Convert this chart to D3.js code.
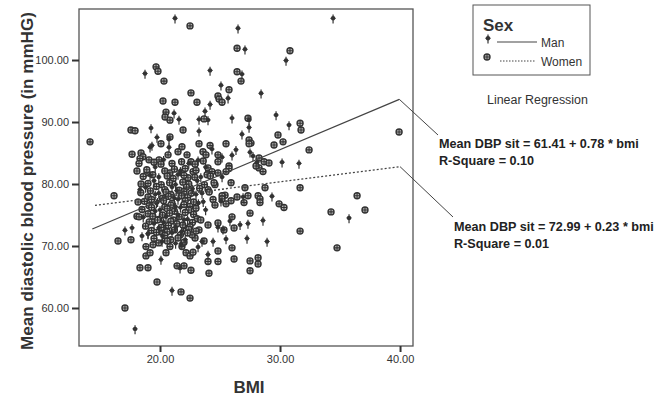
<!DOCTYPE html>
<html>
<head>
<meta charset="utf-8">
<script src="https://cdn.jsdelivr.net/npm/d3@7"></script>
<style>
  html, body { margin: 0; padding: 0; background: #fff; }
  svg { display: block; font-family: "Liberation Sans", Arial, sans-serif; }
</style>
</head>
<body>
<svg id="chart" width="658" height="397"></svg>
<script>
// ---------------- DATA ----------------
const xTicks = [20, 30, 40];
const yTicks = [60, 70, 80, 90, 100];
const xLabel = "BMI";
const yLabel = "Mean diastolic blood pressure (in mmHG)";
const legendTitle = "Sex";
const seriesNames = ["Man", "Women"];
const fitLabels = [
  ["Mean DBP sit = 61.41 + 0.78 * bmi", "R-Square = 0.10"],
  ["Mean DBP sit = 72.99 + 0.23 * bmi", "R-Square = 0.01"]
];
const fitTitle = "Linear Regression";

// regression line end points [bmi, dbp] as drawn
const menFit = [[14.36, 72.74], [39.94, 93.66]];
const womenFit = [[14.58, 76.56], [40.0, 82.8]];

// scatter points [bmi, dbp]
const menPoints = [
  [21.25,106.6],[26.5,105.0],[34.42,106.6],[27.08,101.6],[30.5,99.8],[18.75,97.7],[24.17,98.2],[26.83,97.6],
  [25.08,95.8],[28.42,94.5],[25.67,93.7],[24.17,92.7],[21.17,91.3],[21.58,90.3],[23.75,91.6],[23.25,90.3],
  [24.0,90.2],[26.0,90.5],[27.42,90.2],[27.42,89.0],[26.83,87.9],[29.67,91.0],[30.75,89.4],[19.25,88.9],
  [23.25,88.4],[19.75,87.4],[20.75,87.1],[19.33,86.1],[19.17,85.8],[20.75,85.8],[19.17,81.3],[18.33,79.0],
  [24.33,85.5],[26.33,85.4],[26.0,84.5],[27.5,85.0],[27.75,84.4],[28.08,83.4],[30.17,83.4],[31.58,83.2],
  [23.17,83.7],[25.17,84.2],[25.17,81.0],[17.08,72.4],[17.67,72.8],[18.5,71.5],[19.0,71.8],[20.08,67.7],
  [20.17,70.6],[21.0,62.7],[21.67,66.3],[17.92,56.5],[24.0,68.5],[27.25,71.1],[28.92,70.6],[25.5,71.0],
  [24.42,70.6],[25.83,73.9],[26.67,73.3],[27.33,73.5],[28.58,74.0],[29.33,77.9],[26.92,77.8],[35.75,74.4],
  [25.25,72.6],[25.08,77.1],[24.83,72.9],[21.75,70.2],[23.17,69.7],[23.5,70.6],
  [20.3,83.8],[22.4,83.2],[19.6,82.6],[21.7,82.0],[23.8,82.6],[19.9,81.0],[21.5,81.4],[23.4,81.0],
  [19.5,80.4],[21.3,79.8],[23.1,80.4],[18.8,79.3],[21.0,79.4],[22.7,79.1],[19.9,78.4],[21.4,78.8],
  [23.5,78.4],[19.6,78.2],[21.2,77.6],[23.0,78.2],[19.8,77.0],[21.5,77.4],[23.6,77.0],[19.7,76.8],
  [21.3,76.2],[23.2,76.8],[20.0,75.7],[21.7,76.1],[23.8,75.7],[19.6,75.5],[21.5,74.9],[18.6,74.5],
  [20.5,74.6],[22.3,74.2],[20.3,73.7],[22.0,74.1],[19.5,73.5],[21.3,72.9],[19.9,72.8],[21.8,72.2],
  [19.0,71.9],[21.0,72.0],[20.2,71.5],[22.1,70.9],[21.3,70.3]
];
const womenPoints = [
  [22.5,105.5],[26.42,101.9],[30.83,101.5],[19.67,98.9],[19.83,98.2],[20.33,96.6],[26.42,98.1],[26.75,96.6],
  [25.75,95.2],[22.58,94.7],[20.25,93.4],[21.25,93.2],[23.08,93.2],[24.83,94.2],[24.92,93.7],[25.17,93.2],
  [20.5,91.6],[20.42,90.8],[20.83,90.3],[23.67,90.5],[27.33,90.6],[27.42,87.1],[27.58,86.6],[27.42,86.5],
  [31.67,89.8],[31.75,88.7],[29.83,87.9],[30.25,86.8],[29.5,86.3],[32.42,85.5],[39.92,88.4],[14.17,86.8],
  [17.58,88.7],[17.92,88.6],[21.92,88.7],[20.83,87.6],[20.08,86.5],[17.67,84.8],[18.42,85.0],[18.58,84.4],
  [18.33,84.1],[18.25,83.3],[18.08,82.1],[19.08,83.9],[19.92,83.9],[20.08,83.2],[20.67,84.7],[18.92,81.8],
  [20.83,81.8],[18.42,80.0],[16.17,78.1],[21.83,86.0],[23.25,86.5],[24.17,86.2],[25.5,86.5],[24.83,84.7],
  [28.25,84.2],[28.25,82.6],[28.58,82.0],[28.67,83.6],[29.08,83.4],[25.75,82.9],[25.75,82.5],[25.5,82.0],
  [28.0,82.9],[22.25,84.7],[21.5,85.2],[22.58,83.6],[22.92,83.2],[24.83,83.6],[23.58,85.2],[23.83,84.7],
  [24.0,82.6],[24.33,82.0],[24.83,81.8],[23.92,81.5],[22.75,82.0],[22.33,81.0],[21.83,81.8],[25.92,80.2],
  [27.08,79.4],[28.75,79.4],[24.58,79.9],[24.0,79.1],[25.42,78.2],[25.17,78.1],[26.42,77.9],[27.33,78.1],
  [28.17,78.1],[31.67,79.4],[36.42,78.1],[18.17,77.1],[18.08,74.8],[18.25,74.7],[16.5,70.8],[17.58,71.0],
  [18.83,69.9],[19.42,70.2],[18.83,68.4],[19.17,68.9],[18.33,66.5],[19.0,66.5],[20.0,72.3],[20.25,72.9],
  [19.75,64.2],[21.75,62.6],[22.5,61.6],[21.42,66.8],[22.0,66.8],[22.58,66.1],[17.08,60.0],[20.5,68.9],
  [20.83,69.9],[22.17,68.9],[24.0,67.5],[24.08,65.6],[24.83,67.5],[26.17,67.9],[27.5,67.6],[27.5,66.0],
  [28.17,68.1],[28.17,67.1],[26.0,69.7],[23.67,70.8],[26.0,74.7],[26.17,72.9],[27.5,75.3],[29.92,76.8],
  [30.33,76.2],[28.33,77.6],[28.33,77.0],[27.0,77.0],[31.67,72.4],[34.25,75.5],[37.08,75.8],[34.75,69.7],
  [24.83,69.2],[24.83,73.7],[25.17,77.6],[25.92,77.3],[25.5,76.8],[24.42,77.5],[24.58,76.6],[24.0,73.4],
  [25.33,72.6],[23.25,72.6],[22.92,71.3],[22.17,72.8],[22.67,71.8],[21.83,69.9],[22.5,68.4],[22.75,69.0],
  [19.5,83.5],[21.0,83.3],[21.8,83.6],[23.6,83.7],[18.9,82.3],[20.4,82.1],[21.2,82.4],[22.1,82.5],[23.0,82.2],
  [18.6,81.2],[19.4,81.5],[20.6,81.3],[21.1,80.9],[22.0,81.4],[22.9,81.1],[24.2,81.3],
  [19.0,80.1],[20.1,79.9],[20.8,80.2],[21.9,80.3],[22.4,80.0],[23.7,79.9],[24.5,80.2],
  [19.7,79.6],[20.4,79.1],[21.6,79.0],[22.2,79.5],[23.3,79.3],
  [18.4,78.6],[19.2,78.9],[20.5,78.7],[20.9,78.3],[22.0,78.8],[22.6,78.5],[24.1,78.7],
  [19.0,77.9],[20.2,77.7],[20.7,78.0],[21.8,78.1],[22.3,77.8],
  [18.7,77.2],[19.3,77.5],[20.3,77.3],[21.0,76.9],[22.1,77.3],[22.8,77.1],
  [19.1,76.5],[20.4,76.3],[20.9,76.6],[22.0,76.7],[22.5,76.4],
  [18.5,75.9],[19.3,76.2],[20.6,76.0],[21.2,75.6],[22.4,75.8],[23.0,76.1],
  [19.0,75.2],[20.2,75.0],[20.8,75.3],[22.1,75.4],[22.8,75.1],
  [19.4,74.8],[19.9,74.3],[21.1,74.2],[21.6,74.7],[23.1,74.4],
  [19.1,73.9],[19.8,74.2],[20.9,74.0],[21.4,73.6],[22.7,73.8],[23.4,74.2],
  [18.8,73.2],[20.1,73.0],[20.7,73.3],[21.9,73.4],[22.5,73.1],
  [19.3,72.5],[20.6,72.3],[21.2,72.6],[22.4,72.7],[23.0,72.4],
  [19.7,72.2],[20.4,71.7],[21.7,71.8],[22.3,72.1],
  [19.5,71.2],[20.9,71.0],[21.5,71.3],
  [19.9,70.5],[20.6,70.8],[22.0,70.6]
];

// ---------------- DRAWING ----------------
const svg = d3.select("#chart");
const ink = "#333";
const frame = {left: 79, right: 413, top: 9, bottom: 346};

const x = d3.scaleLinear().domain([13.25, 41.08]).range([frame.left, frame.right]);
const y = d3.scaleLinear().domain([53.87, 108.23]).range([frame.bottom, frame.top]);

// frame
svg.append("rect")
  .attr("x", frame.left).attr("y", frame.top)
  .attr("width", frame.right - frame.left).attr("height", frame.bottom - frame.top)
  .attr("fill", "none").attr("stroke", "#555").attr("stroke-width", 1.3);

// axes
const fmt = d3.format(".2f");
const gx = svg.append("g").attr("transform", `translate(0,${frame.bottom})`)
  .call(d3.axisBottom(x).tickValues(xTicks).tickFormat(fmt).tickSize(6).tickPadding(3));
const gy = svg.append("g").attr("transform", `translate(${frame.left},0)`)
  .call(d3.axisLeft(y).tickValues(yTicks).tickFormat(fmt).tickSize(7).tickPadding(3));
[gx, gy].forEach(g => {
  g.select(".domain").remove();
  g.selectAll(".tick line").attr("stroke", ink).attr("stroke-width", 2);
  g.selectAll(".tick text").attr("fill", ink)
    .style("font-size", "11px").style("font-family", '"Liberation Sans", Arial, sans-serif');
});

// helper: fit a text to a target width by adjusting font size; returns the size
function fitWidth(sel, base, target) {
  const l = sel.node().getComputedTextLength();
  const fs = base * target / l;
  sel.attr("font-size", fs);
  return fs;
}

// axis titles
svg.append("text").attr("x", 249).attr("y", 393).attr("text-anchor", "middle")
  .attr("font-weight", "bold").attr("font-size", 17).attr("fill", ink).text(xLabel);
const yl = svg.append("text").attr("transform", "translate(33,181) rotate(-90)")
  .attr("text-anchor", "middle").attr("font-weight", "bold").attr("font-size", 16)
  .attr("fill", ink).text(yLabel);
fitWidth(yl, 16, 338);

// markers
function drawMan(g) {
  g.append("line").attr("x1", 0).attr("x2", 0).attr("y1", -4.5).attr("y2", 4.5)
    .attr("stroke", "#333").attr("stroke-width", 1.2);
  g.append("circle").attr("cx", 0).attr("cy", -0.8).attr("r", 2.2).attr("fill", "#333");
  g.append("line").attr("x1", -2.6).attr("x2", 2.6).attr("y1", -0.8).attr("y2", -0.8)
    .attr("stroke", "#333").attr("stroke-width", 1);
}
function drawWoman(g) {
  g.append("circle").attr("r", 3.0).attr("fill", "#bbb").attr("stroke", "#333").attr("stroke-width", 1.4);
  g.append("path").attr("d", "M-3,0H3M0,-3V3").attr("stroke", "#333").attr("stroke-width", 1.1);
}

const pts = svg.append("g");
pts.selectAll("g.w").data(womenPoints).enter().append("g").attr("class", "w")
  .attr("transform", d => `translate(${x(d[0])},${y(d[1])})`).each(function () { drawWoman(d3.select(this)); });
pts.selectAll("g.m").data(menPoints).enter().append("g").attr("class", "m")
  .attr("transform", d => `translate(${x(d[0])},${y(d[1])})`).each(function () { drawMan(d3.select(this)); });

// fit lines
const line = d3.line().x(d => x(d[0])).y(d => y(d[1]));
svg.append("path").datum(menFit).attr("d", line).attr("fill", "none")
  .attr("stroke", "#444").attr("stroke-width", 1.2);
svg.append("path").datum(womenFit).attr("d", line).attr("fill", "none")
  .attr("stroke", "#444").attr("stroke-width", 1.3).attr("stroke-dasharray", "2,2");

// leader lines + annotations
const mEnd = menFit[1], wEnd = womenFit[1];
const ann1 = {x: 439, y: 148}, ann2 = {x: 454, y: 231};
svg.append("line").attr("x1", x(mEnd[0])).attr("y1", y(mEnd[1])).attr("x2", ann1.x - 1).attr("y2", ann1.y - 13)
  .attr("stroke", "#444").attr("stroke-width", 1);
svg.append("line").attr("x1", x(wEnd[0])).attr("y1", y(wEnd[1])).attr("x2", ann2.x - 1).attr("y2", ann2.y - 14)
  .attr("stroke", "#444").attr("stroke-width", 1);

[[ann1, fitLabels[0]], [ann2, fitLabels[1]]].forEach(([p, lines]) => {
  const t0 = svg.append("text").attr("x", p.x).attr("y", p.y)
    .attr("font-weight", "bold").attr("font-size", 12).attr("fill", "#222").text(lines[0]);
  const fs = fitWidth(t0, 12, 200);
  svg.append("text").attr("x", p.x).attr("y", p.y + 16.5)
    .attr("font-weight", "bold").attr("font-size", fs).attr("fill", "#222").text(lines[1]);
});

const lr = svg.append("text").attr("x", 487).attr("y", 103.5).attr("font-size", 12)
  .attr("fill", ink).text(fitTitle);
fitWidth(lr, 12, 101);

// legend
const lg = svg.append("g");
lg.append("rect").attr("x", 473).attr("y", 5).attr("width", 117).attr("height", 70)
  .attr("fill", "#fff").attr("stroke", "#555").attr("stroke-width", 1);
lg.append("text").attr("x", 483).attr("y", 31).attr("font-weight", "bold").attr("font-size", 17)
  .attr("fill", ink).text(legendTitle);
drawMan(lg.append("g").attr("transform", "translate(488,39)"));
drawWoman(lg.append("g").attr("transform", "translate(487,57)"));
lg.append("line").attr("x1", 497).attr("x2", 537).attr("y1", 42).attr("y2", 42)
  .attr("stroke", "#444").attr("stroke-width", 1.1);
lg.append("line").attr("x1", 500).attr("x2", 536).attr("y1", 61).attr("y2", 61)
  .attr("stroke", "#444").attr("stroke-width", 1.1).attr("stroke-dasharray", "1.5,1.5");
lg.append("text").attr("x", 541).attr("y", 47).attr("font-size", 12).attr("fill", ink).text(seriesNames[0]);
lg.append("text").attr("x", 541).attr("y", 65.5).attr("font-size", 12).attr("fill", ink).text(seriesNames[1]);
</script>
</body>
</html>
